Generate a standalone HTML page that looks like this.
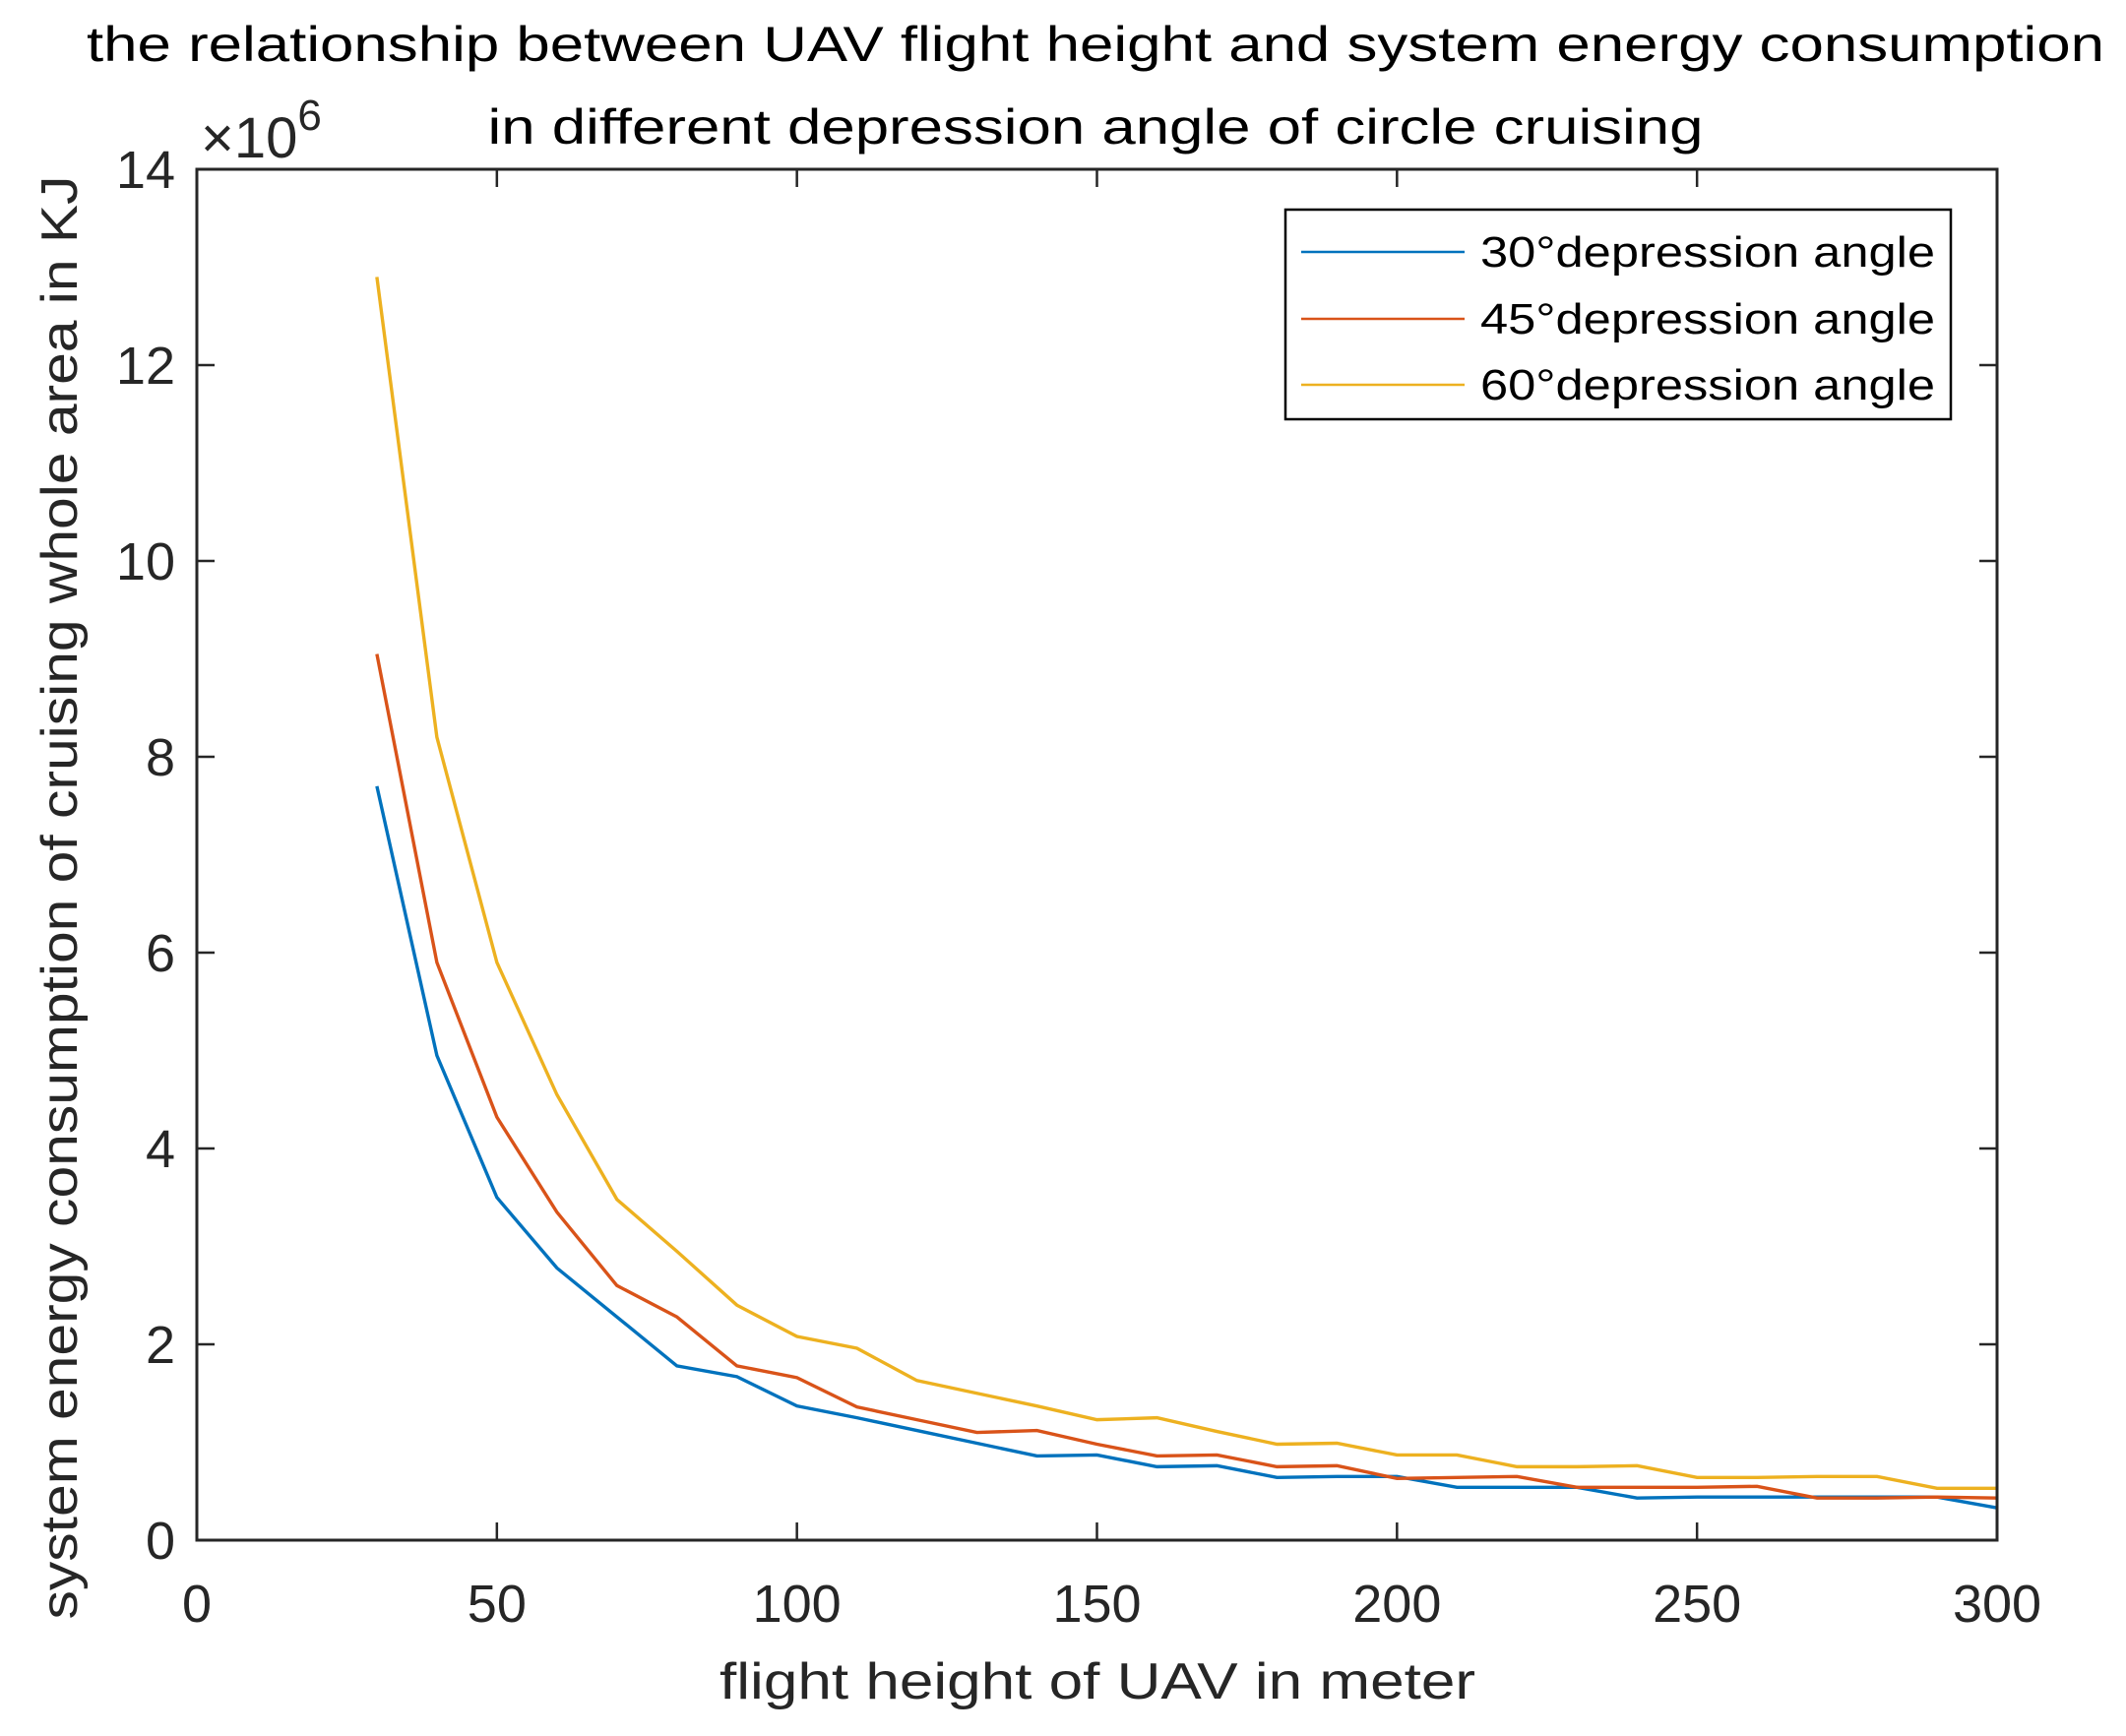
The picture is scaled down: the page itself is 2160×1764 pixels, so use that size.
<!DOCTYPE html>
<html><head><meta charset="utf-8"><style>
html,body{margin:0;padding:0;background:#fff}
svg{display:block;font-family:"Liberation Sans",Arial,sans-serif}
</style></head><body>
<svg id="chart" width="2160" height="1764" viewBox="0 0 2160 1764" xmlns="http://www.w3.org/2000/svg">
<rect width="2160" height="1764" fill="#fff"/>
<text x="1113" y="62" font-size="50" text-anchor="middle" fill="#000" textLength="2050" lengthAdjust="spacingAndGlyphs">the relationship between UAV flight height and system energy consumption</text>
<text x="1113" y="146" font-size="50" text-anchor="middle" fill="#000" textLength="1235" lengthAdjust="spacingAndGlyphs">in different depression angle of circle cruising</text>
<g id="plot"></g>
<text x="1115" y="1726" font-size="52" text-anchor="middle" fill="#262626" textLength="768" lengthAdjust="spacingAndGlyphs">flight height of UAV in meter</text>
<text transform="translate(78,912) rotate(-90)" font-size="52" text-anchor="middle" fill="#262626" textLength="1467" lengthAdjust="spacingAndGlyphs">system energy consumption of cruising whole area in KJ</text>
<text x="204" y="160" font-size="58" fill="#262626">×10<tspan dy="-28" font-size="44">6</tspan></text>
<g>
<rect x="1306" y="213" width="676" height="213" fill="#fff" stroke="#000" stroke-width="2.5"/>
</g>
</svg>
<script>
const xValues=[30,40,50,60,70,80,90,100,110,120,130,140,150,160,170,180,190,200,210,220,230,240,250,260,270,280,290,300];
const series30=[7.7,4.95,3.5,2.78,2.28,1.78,1.67,1.37,1.25,1.12,0.99,0.86,0.87,0.75,0.76,0.64,0.65,0.65,0.54,0.54,0.54,0.43,0.44,0.44,0.44,0.44,0.44,0.33];
const series45=[9.05,5.9,4.32,3.35,2.6,2.28,1.78,1.66,1.36,1.23,1.1,1.12,0.98,0.86,0.87,0.75,0.76,0.63,0.64,0.65,0.54,0.54,0.54,0.55,0.43,0.43,0.44,0.43];
const series60=[12.9,8.2,5.9,4.55,3.48,2.95,2.4,2.08,1.96,1.63,1.5,1.37,1.23,1.25,1.11,0.98,0.99,0.87,0.87,0.75,0.75,0.76,0.64,0.64,0.65,0.65,0.53,0.53];
const seriesNames=["30°depression angle","45°depression angle","60°depression angle"];
const xTicks=[0,50,100,150,200,250,300];
const yTicks=[0,2,4,6,8,10,12,14];

const L=200,R=2029,T=172,B=1565;
const xs=v=>L+(v-0)/(300-0)*(R-L);
const ys=v=>B-(v-0)/(14-0)*(B-T);
const NS="http://www.w3.org/2000/svg";
const g=document.getElementById('plot');
function mk(t,a){const e=document.createElementNS(NS,t);for(const k in a)e.setAttribute(k,a[k]);return e;}

const colors=["#0072BD","#D95319","#EDB120"];
const allSeries=[series30,series45,series60];
const lineNames=['line-30-deg','line-45-deg','line-60-deg'];
allSeries.forEach((s,i)=>{
  const p=mk('polyline',{points:s.map((v,j)=>xs(xValues[j])+','+ys(v)).join(' '),fill:'none',stroke:colors[i],'stroke-width':3.4});
  
  
  g.appendChild(p);
});

const ax=mk('rect',{x:L,y:T,width:R-L,height:B-T,fill:'none',stroke:'#262626','stroke-width':3});


g.appendChild(ax);

xTicks.forEach(v=>{
  const x=xs(v);
  g.appendChild(mk('line',{x1:x,y1:B,x2:x,y2:B-18,stroke:'#262626','stroke-width':2.5}));
  g.appendChild(mk('line',{x1:x,y1:T,x2:x,y2:T+18,stroke:'#262626','stroke-width':2.5}));
  const t=mk('text',{x:x,y:1648,'font-size':54,'text-anchor':'middle',fill:'#262626'});
  t.textContent=v;
  
  
  g.appendChild(t);
});
yTicks.forEach(v=>{
  const y=ys(v);
  g.appendChild(mk('line',{x1:L,y1:y,x2:L+18,y2:y,stroke:'#262626','stroke-width':2.5}));
  g.appendChild(mk('line',{x1:R,y1:y,x2:R-18,y2:y,stroke:'#262626','stroke-width':2.5}));
  const t=mk('text',{x:178,y:y+19,'font-size':54,'text-anchor':'end',fill:'#262626'});
  t.textContent=v;
  
  
  g.appendChild(t);
});

const svg=document.getElementById('chart');
const legendYs=[256,324,391];
seriesNames.forEach((n,i)=>{
  const ln=mk('line',{x1:1322,y1:legendYs[i],x2:1488,y2:legendYs[i],stroke:colors[i],'stroke-width':2.5});
  
  
  svg.appendChild(ln);
  const t=mk('text',{x:1504,y:legendYs[i]+15,'font-size':44,fill:'#000',textLength:462,lengthAdjust:'spacingAndGlyphs'});
  t.textContent=n;
  
  
  svg.appendChild(t);
});
</script>
</body></html>
